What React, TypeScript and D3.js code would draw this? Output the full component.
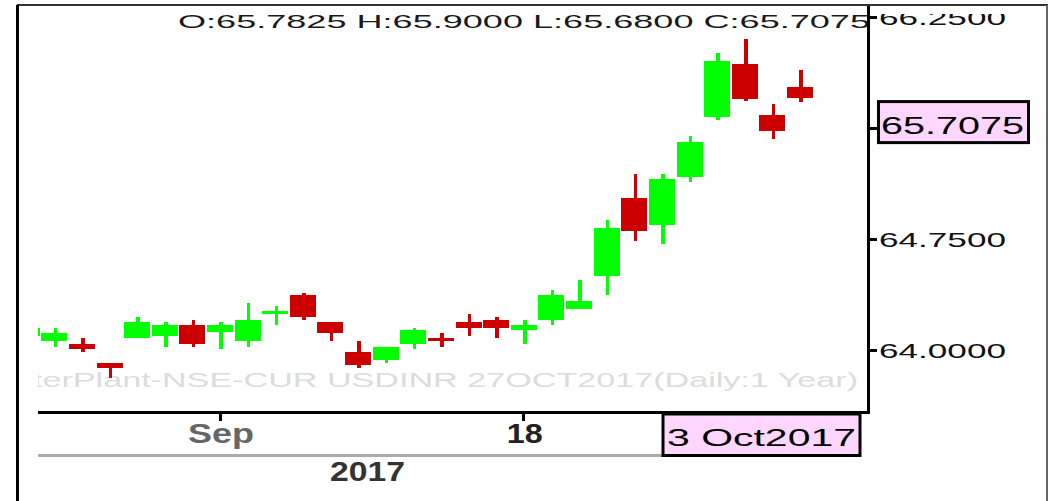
import React from "react";
import * as d3 from "d3";

const dates = [
  "2017-08-22", "2017-08-23", "2017-08-24", "2017-08-28", "2017-08-29", "2017-08-30", "2017-08-31",
  "2017-09-01", "2017-09-04", "2017-09-05", "2017-09-06", "2017-09-07", "2017-09-08", "2017-09-11",
  "2017-09-12", "2017-09-13", "2017-09-14", "2017-09-15", "2017-09-18", "2017-09-19", "2017-09-20",
  "2017-09-21", "2017-09-22", "2017-09-25", "2017-09-26", "2017-09-27", "2017-09-28", "2017-09-29",
  "2017-10-03",
];
const opens = [
  64.095, 64.061, 64.043, 63.914, 64.083, 64.097, 64.169,
  64.12, 64.061, 64.246, 64.373, 64.19, 63.988, 63.932,
  64.043, 64.081, 64.19, 64.203, 64.136, 64.203, 64.278,
  64.504, 65.03, 64.847, 65.174, 65.579, 65.938, 65.592,
  65.7825,
];
const highs = [
  64.16, 64.147, 64.081, 63.914, 64.226, 64.19, 64.203,
  64.19, 64.318, 64.298, 64.388, 64.19, 64.061, 64.02,
  64.151, 64.117, 64.246, 64.226, 64.203, 64.406, 64.474,
  64.881, 65.192, 65.192, 65.45, 66.012, 66.107, 65.667,
  65.9,
];
const lows = [
  64.08, 64.022, 63.988, 63.81, 64.08, 64.022, 64.022,
  64.007, 64.022, 64.169, 64.203, 64.061, 63.876, 63.914,
  64.007, 64.022, 64.097, 64.081, 64.043, 64.169, 64.278,
  64.373, 64.738, 64.718, 65.138, 65.558, 65.687, 65.43,
  65.68,
];
const closes = [
  64.149, 64.117, 64.007, 63.88, 64.192, 64.169, 64.043,
  64.169, 64.203, 64.266, 64.226, 64.117, 63.898, 64.02,
  64.136, 64.061, 64.151, 64.151, 64.169, 64.373, 64.332,
  64.827, 64.806, 65.159, 65.409, 65.958, 65.701, 65.486,
  65.7075,
];

const yTicks = [64, 64.75, 65.5, 66.25];
const yTickLabels = ["64.0000", "64.7500", "65.5000", "66.2500"];
const xTickDates = ["2017-09-01", "2017-09-18"];
const xTickLabels = ["Sep", "18"];
const yearLabel = "2017";
const lastDateLabel = "3 Oct2017";
const lastValueLabel = "65.7075";
const markerValue = 65.5;
const titleText = "O:65.7825  H:65.9000  L:65.6800  C:65.7075";
const watermark = "terPlant-NSE-CUR USDINR 27OCT2017(Daily:1 Year)";

const W = 1049;
const H = 501;
const plotLeft = 38;
const plotRight = 868;
const plotBottom = 412;
const plotTop = 13;

const GREEN = "#00ff00";
const RED = "#cc0000";
const PINK = "#ffd6ff";
const FONT = "'Liberation Sans', Arial, sans-serif";

export default function App() {
  const x = d3.scalePoint<string>().domain(dates).range([26.7, 800]).padding(0);
  const y = d3.scaleLinear().domain([64, 66.25]).range([350, 17.9]);
  const bodyW = 26;
  const wickW = 3.5;

  const candles = dates.map((d, i) => ({
    d,
    o: opens[i],
    h: highs[i],
    l: lows[i],
    c: closes[i],
  }));

  const markerY = y(markerValue);
  const boxTop = markerY - 27;
  const boxBottom = markerY + 14;

  return (
    <svg
      width={W}
      height={H}
      style={{ position: "absolute", left: 0, top: 0, display: "block", background: "#fff" }}
    >
      <defs>
        <clipPath id="plotClip">
          <rect x={plotLeft} y={plotTop} width={plotRight - plotLeft - 1} height={plotBottom - plotTop} />
        </clipPath>
        <clipPath id="axisClip">
          <rect x={plotRight} y={14} width={1030 - plotRight} height={plotBottom - 14 + 50} />
        </clipPath>
      </defs>
      <rect x={0} y={0} width={W} height={H} fill="#fff" />

      {/* watermark */}
      <g clipPath="url(#plotClip)">
        <text
          x={33}
          y={387}
          fontFamily={FONT}
          fontSize={21}
          fill="#dcdcdc"
          textLength={825}
          lengthAdjust="spacingAndGlyphs"
        >
          {watermark}
        </text>
      </g>

      {/* candles */}
      <g clipPath="url(#plotClip)" shapeRendering="crispEdges">
        {candles.map((k) => {
          const cx = x(k.d)!;
          const up = k.c >= k.o;
          const col = up ? GREEN : RED;
          const top = y(Math.max(k.o, k.c));
          const bot = y(Math.min(k.o, k.c));
          return (
            <g key={k.d}>
              <rect x={cx - wickW / 2 + 1} y={y(k.h)} width={wickW} height={y(k.l) - y(k.h)} fill={col} />
              <rect x={cx - bodyW / 2} y={top} width={bodyW} height={Math.max(bot - top, 3)} fill={col} />
            </g>
          );
        })}
      </g>

      {/* title */}
      <text
        x={178}
        y={28}
        fontFamily={FONT}
        fontSize={19}
        fill="#1a1a1a"
        textLength={692}
        lengthAdjust="spacingAndGlyphs"
      >
        {titleText}
      </text>

      {/* right axis */}
      <g shapeRendering="crispEdges">
        <line x1={plotRight} x2={plotRight} y1={5} y2={plotBottom + 1.5} stroke="#000" strokeWidth={3} />
        {yTicks.map((t) => (
          <line key={t} x1={plotRight} x2={877} y1={y(t)} y2={y(t)} stroke="#000" strokeWidth={3} />
        ))}
      </g>
      <g clipPath="url(#axisClip)">
        {yTicks.map((t, i) =>
          t === markerValue ? null : (
            <text
              key={"l" + t}
              x={879}
              y={y(t) + 7.5}
              fontFamily={FONT}
              fontSize={21}
              fill="#111"
              textLength={127}
              lengthAdjust="spacingAndGlyphs"
            >
              {yTickLabels[i]}
            </text>
          )
        )}
        {/* last value box */}
        <rect
          x={878.5}
          y={boxTop}
          width={150}
          height={boxBottom - boxTop}
          fill={PINK}
          stroke="#000"
          strokeWidth={3}
        />
        <text
          x={881}
          y={boxBottom - 9}
          fontFamily={FONT}
          fontSize={24}
          fill="#000"
          textLength={143}
          lengthAdjust="spacingAndGlyphs"
        >
          {lastValueLabel}
        </text>
      </g>

      {/* bottom axis */}
      <g shapeRendering="crispEdges">
        <line x1={plotLeft} x2={plotRight + 1.5} y1={plotBottom} y2={plotBottom} stroke="#000" strokeWidth={3} />
        {xTickDates.map((d) => (
          <line key={d} x1={x(d)!} x2={x(d)!} y1={plotBottom} y2={421} stroke="#000" strokeWidth={3} />
        ))}
        <line x1={plotLeft} x2={662} y1={455} y2={455} stroke="#aaa" strokeWidth={3} />
      </g>
      {xTickDates.map((d, i) => {
        const len = i === 0 ? 66 : 36;
        return (
          <text
            key={"xl" + d}
            x={x(d)! + 1 - len / 2}
            y={443}
            fontFamily={FONT}
            fontWeight="bold"
            fontSize={28}
            fill={i === 0 ? "#666" : "#222"}
            textLength={len}
            lengthAdjust="spacingAndGlyphs"
          >
            {xTickLabels[i]}
          </text>
        );
      })}
      <text
        x={330}
        y={481}
        fontFamily={FONT}
        fontWeight="bold"
        fontSize={28}
        fill="#333"
        textLength={75}
        lengthAdjust="spacingAndGlyphs"
      >
        {yearLabel}
      </text>

      {/* last date box */}
      <rect x={663} y={414} width={197} height={41.5} fill={PINK} stroke="#000" strokeWidth={3} />
      <text
        x={667}
        y={446}
        fontFamily={FONT}
        fontSize={24}
        fill="#000"
        textLength={189}
        lengthAdjust="spacingAndGlyphs"
      >
        {lastDateLabel}
      </text>

      {/* outer frame */}
      <g shapeRendering="crispEdges">
        <line x1={17} x2={1048} y1={5} y2={5} stroke="#333" strokeWidth={2} />
        <line x1={17.5} x2={17.5} y1={5} y2={H} stroke="#000" strokeWidth={3} />
        <line x1={1047} x2={1047} y1={5} y2={H} stroke="#666" strokeWidth={2} />
      </g>
    </svg>
  );
}
